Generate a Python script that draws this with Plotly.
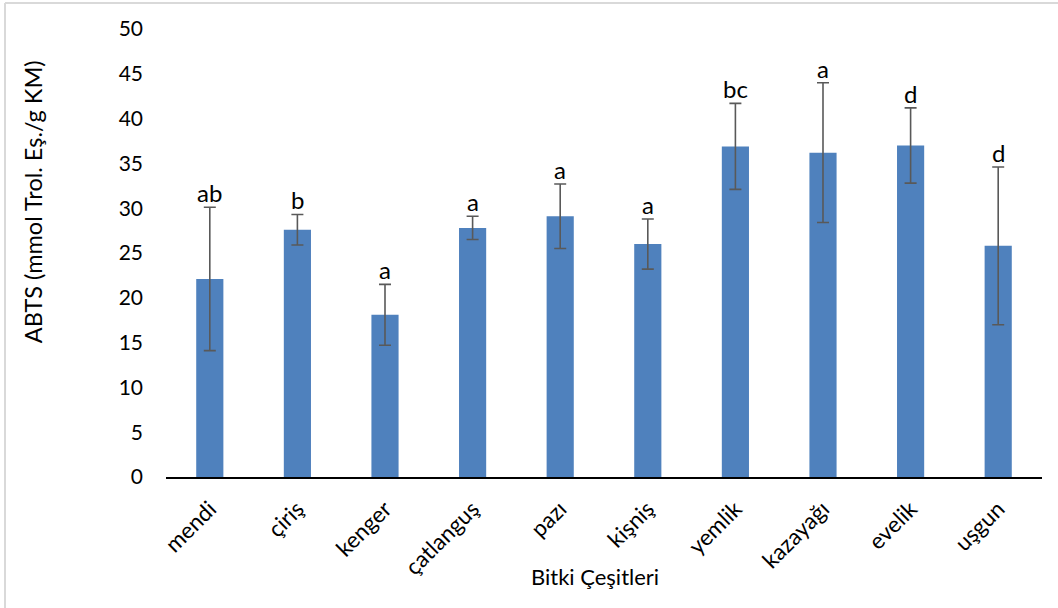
import plotly.graph_objects as go

categories = ["mendi", "çiriş", "kenger", "çatlanguş", "pazı", "kişniş",
              "yemlik", "kazayağı", "evelik", "uşgun"]
means = [22.1, 27.6, 18.1, 27.8, 29.1, 26.0, 36.9, 36.2, 37.0, 25.8]
errors = [8.0, 1.7, 3.4, 1.3, 3.6, 2.8, 4.8, 7.8, 4.2, 8.8]
letters = ["ab", "b", "a", "a", "a", "a", "bc", "a", "d", "d"]
y_ticks = [0, 5, 10, 15, 20, 25, 30, 35, 40, 45, 50]

FONT = "Lato"
BAR = "#4F81BD"
ERR = "#595959"

fig = go.Figure()
fig.add_trace(go.Bar(
    x=categories, y=means,
    marker=dict(color=BAR, line=dict(width=0)),
    error_y=dict(type="data", array=errors, visible=True,
                 color=ERR, thickness=1.6, width=6),
    showlegend=False,
))

annotations = []
for c, m, e, l in zip(categories, means, errors, letters):
    annotations.append(dict(
        x=c, y=m + e, xref="x", yref="y", text=l, showarrow=False,
        yanchor="bottom", yshift=-2,
        font=dict(family=FONT, size=24, color="#000000"),
    ))

# axis titles as annotations (positioned like the original)
annotations.append(dict(
    x=-0.151, y=0.615, xref="paper", yref="paper",
    text="ABTS (mmol Trol. Eş./g KM)", textangle=-90, showarrow=False,
    xanchor="center", yanchor="middle",
    font=dict(family=FONT, size=23.5, color="#000000"),
))
annotations.append(dict(
    x=0.490, y=-0.222, xref="paper", yref="paper",
    text="Bitki Çeşitleri", showarrow=False,
    xanchor="center", yanchor="middle",
    font=dict(family=FONT, size=22, color="#000000"),
))

fig.update_layout(
    width=1058, height=608,
    margin=dict(l=166, r=16, t=29, b=131),
    paper_bgcolor="white", plot_bgcolor="white",
    bargap=0.69,
    annotations=annotations,
    shapes=[
        dict(type="line", xref="paper", yref="paper",
             x0=-0.1838, x1=-0.1838, y0=-0.3, y1=1.058,
             line=dict(color="#D9D9D9", width=2)),
        dict(type="line", xref="paper", yref="paper",
             x0=-0.1838, x1=1.02, y0=1.058, y1=1.058,
             line=dict(color="#D9D9D9", width=2)),
    ],
    xaxis=dict(
        tickangle=-45, showline=True, linecolor="#000000", linewidth=2,
        ticks="", showgrid=False, ticklabelstandoff=8,
        tickfont=dict(family=FONT, size=22.5, color="#000000"),
    ),
    yaxis=dict(
        range=[0, 50], tickvals=y_ticks, showgrid=False, zeroline=False,
        showline=False, ticks="", ticklabelstandoff=22,
        tickfont=dict(family=FONT, size=21, color="#000000"),
    ),
)

fig.write_html("out.html")
